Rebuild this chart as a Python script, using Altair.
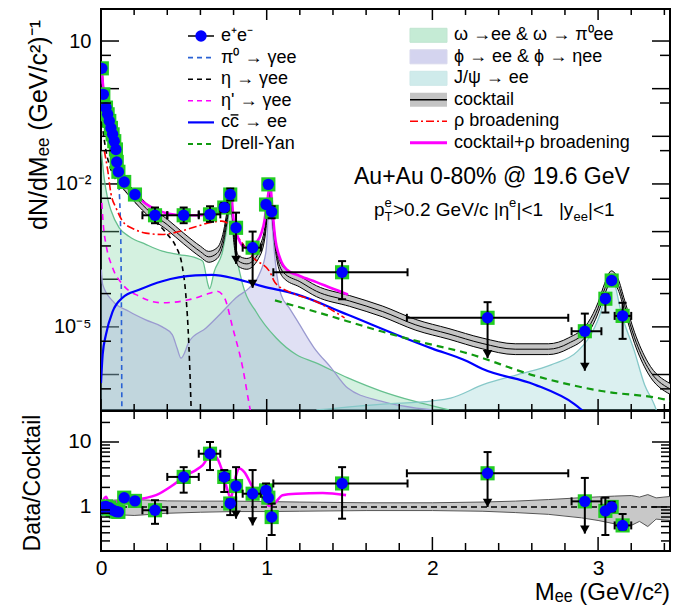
import altair as alt
import pandas as pd

FONT = "Liberation Sans"
W, H1, H2 = 569, 401, 140
XMAX = 3.434
YDOM1 = [1.8e-7, 47.0]
YDOM2 = [0.21, 30.0]

# ---------------- measured e+e- (top panel) ----------------
data_x = [0.005, 0.014, 0.03, 0.04, 0.05, 0.06, 0.07, 0.08, 0.09, 0.095, 0.105, 0.14, 0.205,
          0.326, 0.499, 0.658, 0.744, 0.78, 0.815, 0.915, 0.996, 1.01, 1.03, 1.455, 2.333,
          2.92, 3.044, 3.082, 3.148]
data_y = [2.67, 0.76, 0.40, 0.29, 0.21, 0.15, 0.11, 0.079, 0.053, 0.029, 0.018, 0.011, 0.0060,
          0.0022, 0.0022, 0.0023, 0.0032, 0.0060, 0.0012, 4.6e-4, 0.0037, 0.0098, 0.0026, 1.4e-4,
          1.55e-5, 8.1e-6, 3.9e-5, 9.4e-5, 1.7e-5]
verr_x = [0.326, 0.499, 0.658, 0.744, 0.78, 1.03, 1.455, 3.044, 3.148]
verr_lo = [0.0015, 0.0015, 0.0016, 0.0026, 0.0045, 0.0019, 3.8e-5, 2.0e-5, 5.6e-6]
verr_hi = [0.0032, 0.0032, 0.0034, 0.0040, 0.0080, 0.0034, 2.4e-4, 4.8e-5, 3.2e-5]
ul_x = [0.815, 0.915, 2.333, 2.92]
ul_top = [0.0025, 1.0e-3, 3.3e-5, 1.9e-5]
ul_tip = [2.1e-4, 6.6e-5, 2.2e-6, 1.2e-6]
herr_y = [0.0022, 0.0022, 0.0023, 0.0032, 0.0012, 4.6e-4, 1.4e-4, 1.55e-5, 8.1e-6, 1.7e-5]
herr_lo = [0.25, 0.40, 0.59, 0.72, 0.80, 0.855, 1.04, 1.846, 2.84, 3.10]
herr_hi = [0.40, 0.59, 0.72, 0.77, 0.83, 0.965, 1.85, 2.82, 3.02, 3.20]

# ---------------- cocktail components ----------------
cock_x = [0.005, 0.015, 0.03, 0.05, 0.07, 0.09, 0.10, 0.12, 0.15, 0.20, 0.30, 0.40, 0.50, 0.60,
          0.65, 0.70, 0.74, 0.76, 0.782, 0.80, 0.83, 0.88, 0.95, 0.99, 1.01, 1.02, 1.035, 1.06,
          1.10, 1.20, 1.30, 1.50, 1.70, 1.90, 2.10, 2.30, 2.50, 2.70, 2.82, 2.94, 3.00, 3.04,
          3.08, 3.12, 3.16, 3.22, 3.30, 3.434]
cock_mid = [2.5, 0.89, 0.40, 0.20, 0.107, 0.052, 0.025, 0.013, 0.0089, 0.0056, 0.0025, 0.0014,
            7.1e-4, 3.8e-4, 2.95e-4, 3.5e-4, 7.9e-4, 0.0020, 0.0060, 8.9e-4, 2.4e-4, 2.1e-4,
            3.5e-4, 0.0010, 0.0050, 0.0089, 0.0022, 3.5e-4, 1.4e-4, 8.9e-5, 5.6e-5, 3.5e-5,
            2.1e-5, 1.1e-5, 7.1e-6, 4.5e-6, 3.4e-6, 3.4e-6, 4.5e-6, 9.5e-6, 2.5e-5, 6.3e-5,
            1.15e-4, 7.9e-5, 2.8e-5, 5.9e-6, 1.4e-6, 5.0e-7]
cock_lo = [1.92, 0.685, 0.308, 0.154, 0.0824, 0.040, 0.0193, 0.0100, 0.00685, 0.00431, 0.00193,
           0.00108, 5.47e-4, 2.93e-4, 2.27e-4, 2.70e-4, 6.08e-4, 0.00154, 0.00462, 6.85e-4,
           1.85e-4, 1.62e-4, 2.70e-4, 7.7e-4, 0.00385, 0.00685, 0.00169, 2.70e-4, 1.08e-4,
           6.85e-5, 4.31e-5, 2.70e-5, 1.62e-5, 8.5e-6, 5.5e-6, 3.47e-6, 2.62e-6, 2.62e-6,
           3.47e-6, 7.3e-6, 1.93e-5, 4.85e-5, 8.9e-5, 6.1e-5, 2.16e-5, 4.5e-6, 1.08e-6, 3.85e-7]
cock_hi = [3.25, 1.16, 0.52, 0.26, 0.139, 0.0676, 0.0325, 0.0169, 0.0116, 0.00728, 0.00325,
           0.00182, 9.2e-4, 4.94e-4, 3.84e-4, 4.55e-4, 0.00103, 0.0026, 0.0078, 0.00116,
           3.12e-4, 2.73e-4, 4.55e-4, 0.0013, 0.0065, 0.0116, 0.00286, 4.55e-4, 1.82e-4,
           1.16e-4, 7.3e-5, 4.55e-5, 2.73e-5, 1.43e-5, 9.2e-6, 5.85e-6, 4.42e-6, 4.42e-6,
           5.85e-6, 1.24e-5, 3.25e-5, 8.2e-5, 1.5e-4, 1.03e-4, 3.64e-5, 7.7e-6, 1.82e-6, 6.5e-7]
crho_x = [0.002, 0.01, 0.03, 0.05, 0.07, 0.09, 0.10, 0.12, 0.15, 0.20, 0.30, 0.40, 0.50, 0.60,
          0.70, 0.74, 0.76, 0.782, 0.80, 0.83, 0.87, 0.93, 0.98, 1.01, 1.02, 1.035, 1.05, 1.08,
          1.12, 1.20, 1.30, 1.40, 1.49]
crho_y = [3.5, 1.4, 0.42, 0.22, 0.117, 0.060, 0.034, 0.019, 0.0107, 0.0063, 0.0033, 0.0024,
          0.0022, 0.0022, 0.0024, 0.0032, 0.0045, 0.0079, 0.0018, 7.1e-4, 4.7e-4, 5.6e-4,
          0.0013, 0.0063, 0.0105, 0.0028, 7.9e-4, 2.8e-4, 1.6e-4, 1.17e-4, 8.7e-5, 6.3e-5, 4.8e-5]
rho_x = [0.02, 0.03, 0.04, 0.06, 0.09, 0.13, 0.20, 0.27, 0.37, 0.47, 0.57, 0.67, 0.73, 0.78,
         0.82, 0.92, 1.02, 1.05, 1.15, 1.29, 1.47]
rho_y = [0.050, 0.032, 0.020, 0.0063, 0.0032, 0.00166, 0.00112, 9.3e-4, 8.7e-4, 0.0010, 0.00126,
         0.00158, 0.00166, 0.00132, 8.3e-4, 2.8e-4, 1.4e-4, 8.5e-5, 5.2e-5, 3.5e-5, 1.55e-5]
ccbar_x = [0.0, 0.01, 0.03, 0.07, 0.13, 0.23, 0.37, 0.57, 0.67, 0.815, 0.976, 1.18, 1.49, 1.81,
           2.0, 2.21, 2.3, 2.615, 2.857, 2.92]
ccbar_y = [6.6e-7, 2.6e-6, 6.9e-6, 2.1e-5, 4.1e-5, 6.0e-5, 9.1e-5, 1.2e-4, 1.23e-4, 1.02e-4,
           7.1e-5, 4.8e-5, 1.8e-5, 6.3e-6, 3.5e-6, 1.9e-6, 1.32e-6, 6.2e-7, 2.4e-7, 1.6e-7]
dy_x = [1.05, 1.29, 1.69, 1.89, 2.21, 2.615, 3.02, 3.40, 3.434]
dy_y = [3.6e-5, 2.1e-5, 8.1e-6, 5.2e-6, 2.8e-6, 9.5e-7, 4.5e-7, 3.0e-7, 2.8e-7]
pi0_x = [0.003, 0.01, 0.02, 0.04, 0.06, 0.08, 0.10, 0.11, 0.115, 0.12, 0.123, 0.126]
pi0_y = [2.5, 1.1, 0.60, 0.24, 0.112, 0.050, 0.0166, 0.0071, 0.0028, 5.0e-4, 3.2e-5, 1.5e-7]
eta_x = [0.005, 0.03, 0.06, 0.10, 0.15, 0.20, 0.25, 0.30, 0.40, 0.45, 0.49, 0.51, 0.525, 0.535,
         0.545]
eta_y = [0.20, 0.050, 0.020, 0.0110, 0.0070, 0.0044, 0.0030, 0.0020, 8.8e-4, 5.0e-4, 1.9e-4,
         5.6e-5, 1.0e-5, 1.6e-6, 1.5e-7]
etap_x = [0.005, 0.015, 0.03, 0.07, 0.13, 0.23, 0.37, 0.53, 0.65, 0.70, 0.745, 0.795, 0.855,
          0.895, 0.91]
etap_y = [0.004, 0.00126, 5.4e-4, 1.74e-4, 7.8e-5, 4.4e-5, 3.2e-5, 3.7e-5, 5.0e-5, 5.6e-5,
          4.1e-5, 9.5e-6, 1.4e-6, 2.3e-7, 1.2e-7]
omega_x = [0.002, 0.02, 0.04, 0.06, 0.11, 0.17, 0.27, 0.37, 0.47, 0.573, 0.614, 0.645, 0.655,
           0.684, 0.734, 0.765, 0.782, 0.80, 0.815, 0.855, 0.935, 1.056, 1.18, 1.29, 1.49, 1.69,
           1.89, 2.1]
omega_y = [0.050, 0.0126, 0.0050, 0.0028, 0.0012, 7.9e-4, 5.4e-4, 3.9e-4, 3.3e-4, 2.8e-4, 2.4e-4,
           7.9e-5, 6.3e-5, 1.48e-4, 3.9e-4, 0.00158, 0.0050, 0.00126, 3.9e-4, 7.8e-5, 2.1e-5,
           5.9e-6, 2.6e-6, 1.8e-6, 8.5e-7, 4.5e-7, 2.75e-7, 1.8e-7]
phi_x = [0.002, 0.01, 0.07, 0.17, 0.27, 0.37, 0.43, 0.46, 0.483, 0.533, 0.634, 0.734, 0.815,
         0.895, 0.955, 0.996, 1.01, 1.019, 1.03, 1.056, 1.086, 1.136, 1.187, 1.287, 1.388, 1.489,
         1.69, 2.0]
phi_y = [1.6e-4, 7.8e-5, 3.5e-5, 2.1e-5, 1.4e-5, 1.0e-5, 6.9e-6, 3.5e-6, 2.2e-6, 5.0e-6, 9.5e-6,
         2.1e-5, 4.1e-5, 6.6e-5, 1.26e-4, 3.9e-4, 0.0025, 0.0079, 0.0020, 1.74e-4, 4.8e-5, 2.5e-5,
         1.3e-5, 3.6e-6, 1.4e-6, 5.2e-7, 2.75e-7, 1.8e-7]
jpsi_x = [1.3, 1.7, 2.0, 2.11, 2.31, 2.515, 2.716, 2.877, 2.957, 3.017, 3.058, 3.082, 3.10, 3.138,
          3.219, 3.28, 3.34, 3.36]
jpsi_y = [1.8e-7, 2.4e-7, 2.8e-7, 3.2e-7, 6.2e-7, 1.0e-6, 1.6e-6, 3.1e-6, 6.9e-6, 2.1e-5, 7.8e-5,
          1.1e-4, 7.9e-5, 2.1e-5, 3.1e-6, 6.2e-7, 2.3e-7, 1.5e-7]

# ---------------- ratio panel ----------------
r_x = [0.005, 0.015, 0.03, 0.05, 0.07, 0.09, 0.105, 0.14, 0.205, 0.326, 0.499, 0.658, 0.744,
       0.78, 0.815, 0.915, 0.996, 1.01, 1.03, 1.455, 2.333, 2.92, 3.044, 3.082, 3.148]
r_y = [0.94, 1.0, 1.02, 0.97, 0.90, 0.85, 0.84, 1.39, 1.24, 0.89, 2.9, 6.6, 2.9, 1.13, 2.1, 1.6,
       1.8, 1.39, 0.70, 2.3, 3.3, 1.22, 0.87, 1.0, 0.52]
rv_x = [0.326, 0.499, 0.658, 0.744, 0.78, 0.996, 1.03, 1.455, 3.044, 3.082, 3.148]
rv_lo = [0.55, 1.66, 3.7, 1.7, 0.75, 1.4, 0.37, 0.66, 0.37, 0.85, 0.45]
rv_hi = [1.27, 4.1, 10.0, 3.7, 1.3, 2.3, 1.13, 4.1, 1.39, 1.2, 0.78]
ru_x = [0.815, 0.915, 2.333, 2.92]
ru_top = [4.1, 3.7, 7.0, 2.8]
ru_tip = [0.66, 0.52, 1.0, 0.39]
rh_y = [0.89, 2.9, 6.6, 2.9, 2.1, 1.6, 2.3, 3.3, 1.22, 0.52]
rh_lo = [0.25, 0.40, 0.59, 0.72, 0.80, 0.855, 1.04, 1.846, 2.84, 3.10]
rh_hi = [0.40, 0.59, 0.72, 0.77, 0.83, 0.965, 1.85, 2.82, 3.02, 3.20]
bb_x = [0.0, 0.1, 0.2, 0.4, 0.6, 0.8, 1.0, 1.2, 1.6, 2.0, 2.3, 2.5, 2.7, 2.9, 3.0, 3.1, 3.2, 3.25,
        3.3, 3.35, 3.434]
bb_lo = [0.78, 0.76, 0.74, 0.80, 0.83, 0.85, 0.85, 0.86, 0.88, 0.88, 0.86, 0.82, 0.77, 0.68, 0.62,
         0.55, 0.52, 0.60, 0.50, 0.65, 0.62]
bb_hi = [1.25, 1.28, 1.30, 1.24, 1.23, 1.23, 1.21, 1.19, 1.16, 1.16, 1.19, 1.23, 1.30, 1.39, 1.43,
         1.47, 1.50, 1.42, 1.55, 1.38, 1.45]
rr_x = [0.0, 0.03, 0.054, 0.09, 0.171, 0.332, 0.433, 0.513, 0.573, 0.614, 0.66, 0.694, 0.73,
        0.764, 0.784, 0.798, 0.815, 0.835, 0.865, 0.915, 0.975, 1.016, 1.046, 1.096, 1.177,
        1.338, 1.479]
rr_y = [1.06, 1.43, 1.06, 1.19, 1.26, 1.52, 2.16, 3.07, 3.7, 4.4, 6.25, 5.9, 3.7, 1.8, 1.34, 2.03,
        3.07, 3.9, 3.45, 2.03, 1.43, 1.04, 1.13, 1.52, 1.6, 1.64, 1.52]
one_x = [0.0, 3.434]
one_y = [1.0, 1.0]

# ---------------- axis ticks / labels ----------------
x_major = [0, 1, 2, 3]
x_minor = [0.2, 0.4, 0.6, 0.8, 1.2, 1.4, 1.6, 1.8, 2.2, 2.4, 2.6, 2.8, 3.2, 3.4]
y1_major = [1e-6, 1e-5, 1e-4, 1e-3, 1e-2, 1e-1, 1, 10]
y1_minor = [5e-7, 5e-6, 5e-5, 5e-4, 5e-3, 5e-2, 0.5, 5]
y1_labels = [10, 1e-2, 1e-5]
y2_major = [1, 10]
y2_minor = [0.3, 0.4, 0.5, 0.6, 0.7, 0.8, 0.9, 2, 3, 4, 5, 6, 7, 8, 9, 20]
y2_labels = [1, 10]

left_labels = ["e\u207ae\u207b", "\u03c0\u2070 \u2192 \u03b3ee", "\u03b7 \u2192 \u03b3ee",
               "\u03b7' \u2192 \u03b3ee", "cc \u2192 ee", "Drell-Yan"]
right_labels = ["\u03c9 \u2192ee & \u03c9 \u2192 \u03c0\u2070ee", "\u03d5 \u2192 ee & \u03d5 \u2192 \u03b7ee",
                "J/\u03c8 \u2192 ee", "cocktail", "\u03c1 broadening", "cocktail+\u03c1 broadening"]

OM_F, OM_L, OM_A = "#6fcf97", "#66c08e", 0.30
PH_F, PH_L, PH_A = "#8f8fd6", "#9a9ad0", 0.28
JP_F, JP_L, JP_A = "#8fd0d0", "#86c8c8", 0.32
DUMMY = pd.DataFrame({"a": [0]})

AX = {
    "top_x": None,
    "bot_x": alt.Axis(values=x_major, ticks=False, tickSize=0, domain=False, grid=False, title=None,
                      labelFont=FONT, labelFontSize=21, labelColor="black", labelPadding=6,
                      labelFlush=False, labelOverlap=False, format="d"),
    "top_y": alt.Axis(values=y1_labels, ticks=False, tickSize=0, domain=False, grid=False, title=None,
                      labelFont=FONT, labelFontSize=20, labelColor="black", labelPadding=10,
                      labelFlush=False, labelOverlap=False,
                      labelExpr="datum.value > 1 ? '10' : (datum.value > 0.001 ? '10\u207b\u00b2' : '10\u207b\u2075')"),
    "bot_y": alt.Axis(values=y2_labels, ticks=False, tickSize=0, domain=False, grid=False, title=None,
                      labelFont=FONT, labelFontSize=21, labelColor="black", labelPadding=10,
                      labelFlush=False, labelOverlap=False, format="d"),
}
DOM = {"top": YDOM1, "bot": YDOM2}
HGT = {"top": H1, "bot": H2}


def xenc(field, p):
    return alt.X(f"{field}:Q", scale=alt.Scale(domain=[0, XMAX], nice=False, zero=False),
                 axis=AX[p + "_x"])


def yenc(field, p):
    return alt.Y(f"{field}:Q", scale=alt.Scale(type="log", domain=DOM[p], nice=False),
                 axis=AX[p + "_y"], stack=None)


def line(xv, yv, p, color, width, dash=None, interp="monotone"):
    df = pd.DataFrame({"x": xv, "y": yv})
    kw = dict(color=color, strokeWidth=width, clip=True, interpolate=interp)
    if dash:
        kw["strokeDash"] = dash
    return alt.Chart(df).mark_line(**kw).encode(x=xenc("x", p), y=yenc("y", p))


def area(xv, yv, p, color, opacity):
    df = pd.DataFrame({"x": xv, "y": yv, "floor": [DOM[p][0]] * len(xv)})
    return alt.Chart(df).mark_area(color=color, opacity=opacity, clip=True,
                                   interpolate="monotone").encode(
        x=xenc("x", p), y=yenc("y", p), y2=alt.Y2("floor:Q"))


def band(xv, lo, hi, p, fill):
    df = pd.DataFrame({"x": xv, "lo": lo, "hi": hi})
    return alt.Chart(df).mark_area(color=fill, opacity=1, clip=True, interpolate="monotone").encode(
        x=xenc("x", p), y=yenc("lo", p), y2=alt.Y2("hi:Q"))


def cap(df, xf, yf, p, orient):
    return alt.Chart(df).mark_tick(orient=orient, size=8, thickness=2, color="black", opacity=1,
                                   clip=True).encode(x=xenc(xf, p), y=yenc(yf, p))


def vbars(xv, lo, hi, p):
    df = pd.DataFrame({"x": xv, "lo": lo, "hi": hi})
    return [alt.Chart(df).mark_rule(color="black", strokeWidth=2, clip=True).encode(
                x=xenc("x", p), y=yenc("lo", p), y2=alt.Y2("hi:Q")),
            cap(df, "x", "lo", p, "horizontal"), cap(df, "x", "hi", p, "horizontal")]


def ulims(xv, top, tip, p):
    df = pd.DataFrame({"x": xv, "top": top, "tip": tip})
    return [alt.Chart(df).mark_rule(color="black", strokeWidth=2, clip=True).encode(
                x=xenc("x", p), y=yenc("tip", p), y2=alt.Y2("top:Q")),
            cap(df, "x", "top", p, "horizontal"),
            alt.Chart(df).mark_point(shape="triangle-down", filled=True, size=90, color="black",
                                     opacity=1, yOffset=-4, clip=True).encode(
                x=xenc("x", p), y=yenc("tip", p))]


def hbars(yv, lo, hi, p):
    df = pd.DataFrame({"y": yv, "lo": lo, "hi": hi})
    return [alt.Chart(df).mark_rule(color="black", strokeWidth=2, clip=True).encode(
                y=yenc("y", p), x=xenc("lo", p), x2=alt.X2("hi:Q")),
            cap(df, "lo", "y", p, "vertical"), cap(df, "hi", "y", p, "vertical")]


def markers(xv, yv, p):
    df = pd.DataFrame({"x": xv, "y": yv})
    sq = alt.Chart(df).mark_point(shape="square", filled=True, size=200, color="#22cc22", opacity=1,
                                  clip=True).encode(x=xenc("x", p), y=yenc("y", p))
    ci = alt.Chart(df).mark_point(shape="circle", filled=True, size=130, color="#0000ff", opacity=1,
                                  clip=True).encode(x=xenc("x", p), y=yenc("y", p))
    return sq, ci


def ticks_x(vals, p, length, edge):
    df = pd.DataFrame({"v": vals})
    h = HGT[p]
    y1, y2 = (h, h - length) if edge == "bottom" else (0, length)
    return alt.Chart(df).mark_rule(color="black", strokeWidth=1.5, clip=True).encode(
        x=xenc("v", p), y=alt.value(y1), y2=alt.value(y2))


def ticks_y(vals, p, length, edge):
    df = pd.DataFrame({"v": vals})
    x1, x2 = (0, length) if edge == "left" else (W, W - length)
    return alt.Chart(df).mark_rule(color="black", strokeWidth=1.5, clip=True).encode(
        y=yenc("v", p), x=alt.value(x1), x2=alt.value(x2))


def txt(s, x, y, size, align="left", baseline="middle", angle=None):
    kw = dict(text=s, font=FONT, fontSize=size, align=align, baseline=baseline, color="black")
    if angle:
        kw["angle"] = angle
    return alt.Chart(DUMMY).mark_text(**kw).encode(x=alt.value(x), y=alt.value(y))


def seg(x1, x2, y, color, width, dash=None):
    kw = dict(color=color, strokeWidth=width)
    if dash:
        kw["strokeDash"] = dash
    return alt.Chart(DUMMY).mark_rule(**kw).encode(x=alt.value(x1), x2=alt.value(x2), y=alt.value(y))


def box(x1, x2, y1, y2, fill, opacity, stroke=None):
    kw = dict(color=fill, opacity=opacity)
    if stroke:
        kw["stroke"] = stroke
        kw["strokeWidth"] = 1
        kw["strokeOpacity"] = 1
    return alt.Chart(DUMMY).mark_rect(**kw).encode(
        x=alt.value(x1), x2=alt.value(x2), y=alt.value(y1), y2=alt.value(y2))


# ================= top panel =================
P = "top"
top = [ticks_y(y1_major, P, 18, "left")]
top += [area(omega_x, omega_y, P, OM_F, OM_A),
        area(phi_x, phi_y, P, PH_F, PH_A),
        area(jpsi_x, jpsi_y, P, JP_F, JP_A),
        line(omega_x, omega_y, P, OM_L, 1.3),
        line(phi_x, phi_y, P, PH_L, 1.3),
        line(jpsi_x, jpsi_y, P, JP_L, 1.3)]
top += [line(pi0_x, pi0_y, P, "#2a62d4", 1.6, [5, 4]),
        line(eta_x, eta_y, P, "black", 1.6, [5, 4]),
        line(etap_x, etap_y, P, "#ff00ff", 1.6, [6, 5]),
        line(ccbar_x, ccbar_y, P, "#0000ff", 2.2),
        line(dy_x, dy_y, P, "#109a10", 2.2, [7, 5])]
top += [band(cock_x, cock_lo, cock_hi, P, "#c4c4c4"),
        line(cock_x, cock_lo, P, "black", 1),
        line(cock_x, cock_hi, P, "black", 1),
        line(cock_x, cock_mid, P, "black", 1),
        line(rho_x, rho_y, P, "#ff0000", 1.6, [8, 3, 2, 3]),
        line(crho_x, crho_y, P, "#ff00ff", 2.6)]
sq1, ci1 = markers(data_x, data_y, P)
top += [sq1]
top += vbars(verr_x, verr_lo, verr_hi, P)
top += ulims(ul_x, ul_top, ul_tip, P)
top += hbars(herr_y, herr_lo, herr_hi, P)
top += [ci1]
top += [ticks_y(y1_minor, P, 10, "left"),
        ticks_y(y1_major, P, 18, "right"),
        ticks_y(y1_minor, P, 10, "right"),
        ticks_x(x_major, P, 11, "bottom"),
        ticks_x(x_minor, P, 6, "bottom"),
        ticks_x(x_major, P, 11, "top"),
        ticks_x(x_minor, P, 6, "top")]

# legends
LX1, LX2, LTX = 87, 113, 120
ly = [27 + 21.6 * i for i in range(6)]
top += [seg(LX1, LX2, ly[0], "black", 1.5),
        alt.Chart(DUMMY).mark_point(shape="circle", filled=True, size=130, color="#0000ff",
                                    opacity=1).encode(x=alt.value((LX1 + LX2) / 2), y=alt.value(ly[0])),
        seg(LX1, LX2, ly[1], "#2a62d4", 1.6, [5, 4]),
        seg(LX1, LX2, ly[2], "black", 1.6, [5, 4]),
        seg(LX1, LX2, ly[3], "#ff00ff", 1.6, [5, 4]),
        seg(LX1, LX2, ly[4], "#0000ff", 2.2),
        seg(LX1, LX2, ly[5], "#109a10", 2.2, [5, 4])]
top += [txt(s, LTX, y, 18) for s, y in zip(left_labels, ly)]
# bar over the second c of "cc"
top += [seg(LTX + 9.6, LTX + 17.4, ly[4] - 7.5, "black", 1.4)]
RX1, RX2, RTX = 309, 346, 353
ry = [26.3 + 21.5 * i for i in range(6)]
top += [box(RX1, RX2, ry[0] - 7, ry[0] + 7, OM_F, OM_A + 0.1, OM_L),
        box(RX1, RX2, ry[1] - 7, ry[1] + 7, PH_F, PH_A + 0.1, PH_L),
        box(RX1, RX2, ry[2] - 7, ry[2] + 7, JP_F, JP_A + 0.1, JP_L),
        box(RX1, RX2, ry[3] - 7, ry[3] + 7, "#c4c4c4", 1),
        seg(RX1, RX2, ry[3], "black", 1.5),
        seg(RX1, RX2, ry[4], "#ff0000", 1.6, [8, 3, 2, 3]),
        seg(RX1, RX2, ry[5], "#ff00ff", 3)]
top += [txt(s, RTX, y, 18) for s, y in zip(right_labels, ry)]

# annotations
top += [txt("Au+Au 0-80% @ 19.6 GeV", 253, 175, 23, baseline="alphabetic")]
BY = 207
top += [txt("p", 273, BY, 19, baseline="alphabetic"),
        txt("e", 283.5, BY - 9, 13, baseline="alphabetic"),
        txt("T", 283.5, BY + 5, 13, baseline="alphabetic"),
        txt(">0.2 GeV/c |\u03b7", 292, BY, 19, baseline="alphabetic"),
        txt("e", 408, BY - 9, 13, baseline="alphabetic"),
        txt("|<1\u00a0\u00a0\u00a0|y", 415.5, BY, 19, baseline="alphabetic"),
        txt("ee", 472.5, BY + 5, 13, baseline="alphabetic"),
        txt("|<1", 487, BY, 19, baseline="alphabetic")]
top += [txt("dN/dM\u2091\u2091 (GeV/c\u00b2)\u207b\u00b9", -62, 116, 25, align="center",
            baseline="middle", angle=270)]
# invisible pin that fixes the left margin
top += [alt.Chart(DUMMY).mark_rule(opacity=0, strokeOpacity=0).encode(
    x=alt.value(-92), x2=alt.value(-91), y=alt.value(200), y2=alt.value(201))]

top_chart = alt.layer(*top).properties(width=W, height=H1)

# ================= bottom panel =================
P = "bot"
bot = [ticks_x(x_major, P, 14, "bottom"), ticks_y(y2_major, P, 18, "left")]
bot += [band(bb_x, bb_lo, bb_hi, P, "#c8c8c8"),
        line(bb_x, bb_lo, P, "#555555", 1, interp="linear"),
        line(bb_x, bb_hi, P, "#555555", 1, interp="linear"),
        line(one_x, one_y, P, "black", 1.6, [6, 4], interp="linear"),
        line(rr_x, rr_y, P, "#ff00ff", 2.6)]
sq2, ci2 = markers(r_x, r_y, P)
bot += [sq2]
bot += vbars(rv_x, rv_lo, rv_hi, P)
bot += ulims(ru_x, ru_top, ru_tip, P)
bot += hbars(rh_y, rh_lo, rh_hi, P)
bot += [ci2]
bot += [ticks_y(y2_minor, P, 9, "left"),
        ticks_y(y2_major, P, 18, "right"),
        ticks_y(y2_minor, P, 9, "right"),
        ticks_x(x_minor, P, 8, "bottom"),
        ticks_x(x_major, P, 14, "top"),
        ticks_x(x_minor, P, 8, "top")]
bot += [txt("Data/Cocktail", -68, 72, 23, align="center", baseline="middle", angle=270),
        txt("M\u2091\u2091 (GeV/c\u00b2)", W, 189, 24, align="right", baseline="alphabetic")]

bot_chart = alt.layer(*bot).properties(width=W, height=H2)

chart = alt.vconcat(top_chart, bot_chart, spacing=-8).configure_view(
    stroke="black", strokeWidth=2).properties(
    padding={"left": 0, "top": 0, "right": 6, "bottom": 0})

chart.save("out.html", embed_options={"renderer": "svg", "actions": False})
